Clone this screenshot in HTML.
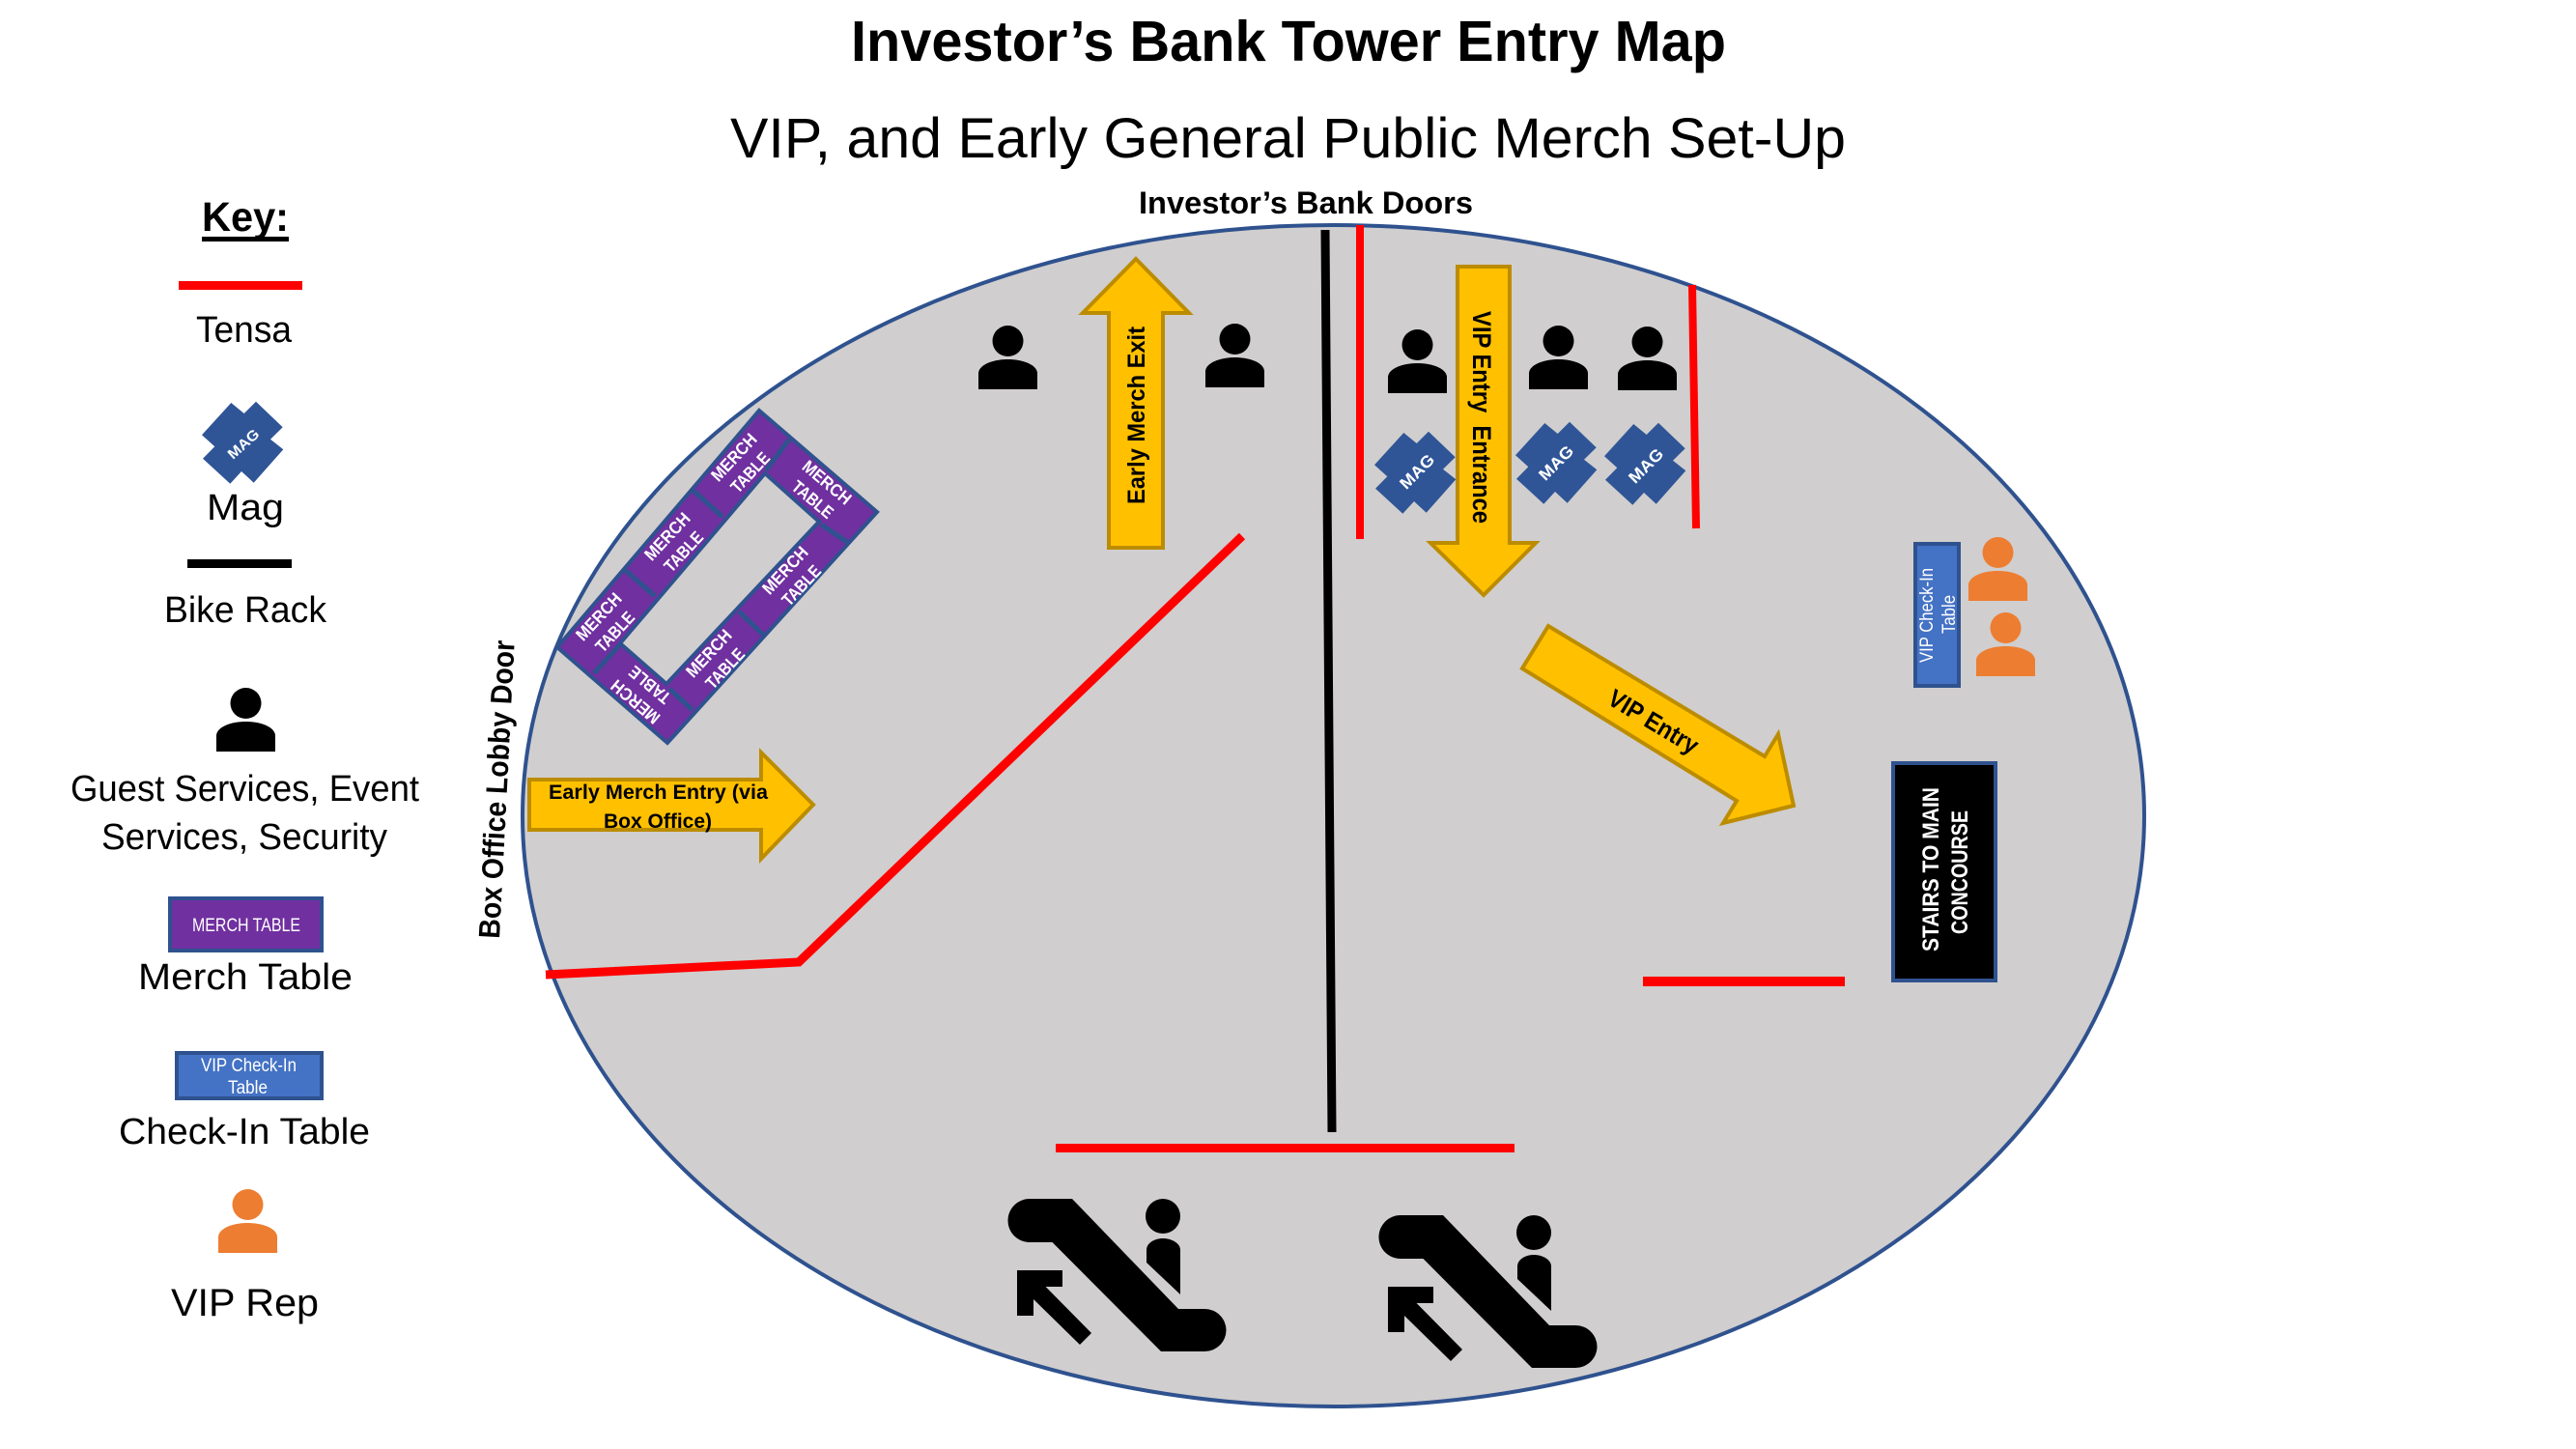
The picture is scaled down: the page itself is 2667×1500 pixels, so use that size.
<!DOCTYPE html>
<html>
<head>
<meta charset="utf-8">
<title>Investor's Bank Tower Entry Map</title>
<style>
html,body{margin:0;padding:0;background:#fff;width:2667px;height:1500px;overflow:hidden}
svg{display:block}
text{font-family:"Liberation Sans",sans-serif;fill:#000}
.b{font-weight:bold}
.w{fill:#fff}
</style>
</head>
<body>
<svg width="2667" height="1500" viewBox="0 0 2667 1500" xmlns="http://www.w3.org/2000/svg">
<defs>
  <g id="person"><circle cx="30.5" cy="-19" r="16"/><path d="M0 31V14C1 5 16 0 30.5 0S60 5 61 14V31Z"/></g>
  <polygon id="mag" fill="#2f5597" points="-11.7,-41 1.7,-30 14,-42.3 41.7,-15.7 29,-3.3 42.3,7.3 11.7,41.7 -1,30 -12.7,42.7 -41,16.7 -28.7,4.3 -42,-7.7"/>
  <g id="esc">
    <path d="M1066 1241H1110L1220 1355H1247A22.5 22 0 0 1 1247 1399H1202L1089.5 1286H1066A22.5 22.5 0 0 1 1066 1241Z"/>
    <ellipse cx="1204" cy="1259" rx="18" ry="18"/>
    <path d="M1187 1307V1294C1187 1287 1195 1282 1204 1282S1222 1287 1222 1294V1340Z"/>
    <polygon points="1053,1315 1100,1315 1100,1332 1082.6,1332 1130,1380 1118,1392 1070,1345 1070,1362 1053,1362"/>
  </g>
</defs>

<text class="b" x="881" y="63" font-size="59" textLength="906" lengthAdjust="spacingAndGlyphs">Investor’s Bank Tower Entry Map</text>
<text x="756" y="163" font-size="58" textLength="1155" lengthAdjust="spacingAndGlyphs">VIP, and Early General Public Merch Set-Up</text>

<!-- Legend -->
<text class="b" x="209" y="239" font-size="43" textLength="90" lengthAdjust="spacingAndGlyphs">Key:</text>
<rect x="209" y="245" width="90" height="5" fill="#000"/>
<rect x="185" y="291" width="128" height="9" fill="#f00"/>
<text x="203" y="354" font-size="38" textLength="99" lengthAdjust="spacingAndGlyphs">Tensa</text>
<use href="#mag" x="251" y="458"/>
<text class="b w" transform="translate(251.7,459.3) rotate(-42)" text-anchor="middle" y="5.5" font-size="15" textLength="38" lengthAdjust="spacingAndGlyphs">MAG</text>
<text x="214" y="538" font-size="38" textLength="80" lengthAdjust="spacingAndGlyphs">Mag</text>
<rect x="194" y="579" width="108" height="9" fill="#000"/>
<text x="170" y="644" font-size="38" textLength="168" lengthAdjust="spacingAndGlyphs">Bike Rack</text>
<use href="#person" x="224" y="747"/>
<text x="73" y="829" font-size="38" textLength="361" lengthAdjust="spacingAndGlyphs">Guest Services, Event</text>
<text x="105" y="879" font-size="38" textLength="296" lengthAdjust="spacingAndGlyphs">Services, Security</text>
<rect x="176" y="930" width="157" height="54" fill="#7030a0" stroke="#2f528f" stroke-width="4"/>
<text class="w" x="199" y="964" font-size="19" textLength="112" lengthAdjust="spacingAndGlyphs">MERCH TABLE</text>
<text x="143" y="1024" font-size="38" textLength="222" lengthAdjust="spacingAndGlyphs">Merch Table</text>
<rect x="183" y="1090" width="150" height="47" fill="#4472c4" stroke="#2f528f" stroke-width="4"/>
<text class="w" x="208" y="1109" font-size="19" textLength="99" lengthAdjust="spacingAndGlyphs">VIP Check-In</text>
<text class="w" x="236" y="1132" font-size="19" textLength="41" lengthAdjust="spacingAndGlyphs">Table</text>
<text x="123" y="1184" font-size="38" textLength="260" lengthAdjust="spacingAndGlyphs">Check-In Table</text>
<use href="#person" x="226" y="1266" fill="#ed7d31"/>
<text x="177" y="1362" font-size="40" textLength="153" lengthAdjust="spacingAndGlyphs">VIP Rep</text>

<!-- Floor -->
<ellipse cx="1380.5" cy="844.5" rx="839.5" ry="611.5" fill="#d0cece" stroke="#2f528f" stroke-width="4"/>

<text class="b" x="1179" y="221" font-size="32" textLength="346" lengthAdjust="spacingAndGlyphs">Investor’s Bank Doors</text>
<text class="b" transform="translate(517,972) rotate(-87.1)" font-size="31" textLength="309" lengthAdjust="spacingAndGlyphs">Box Office Lobby Door</text>

<!-- Merch tables -->
<polygon points="786,425 908,530 691,769 577,670" fill="#7030a0" stroke="#2f528f" stroke-width="4"/>
<polygon points="792,490 848,540 690,708 642,666" fill="#d0cece" stroke="#2f528f" stroke-width="4"/>
<g stroke="#2f528f" stroke-width="5">
  <line x1="817" y1="455" x2="793" y2="487"/>
  <line x1="718" y1="508" x2="748" y2="535"/>
  <line x1="647" y1="590" x2="678" y2="617"/>
  <line x1="615" y1="697" x2="642" y2="667"/>
  <line x1="693" y1="713" x2="717" y2="735"/>
  <line x1="765" y1="633" x2="790" y2="657"/>
  <line x1="850" y1="543" x2="880" y2="563"/>
</g>
<g class="b" font-size="18" text-anchor="middle" font-weight="bold">
  <g transform="translate(628,646) rotate(-47)"><text class="w" y="-5" text-anchor="middle" textLength="60" lengthAdjust="spacingAndGlyphs">MERCH</text><text class="w" y="18" text-anchor="middle" textLength="50" lengthAdjust="spacingAndGlyphs">TABLE</text></g>
  <g transform="translate(699,563) rotate(-47)"><text class="w" y="-5" text-anchor="middle" textLength="60" lengthAdjust="spacingAndGlyphs">MERCH</text><text class="w" y="18" text-anchor="middle" textLength="50" lengthAdjust="spacingAndGlyphs">TABLE</text></g>
  <g transform="translate(768,481) rotate(-47)"><text class="w" y="-5" text-anchor="middle" textLength="60" lengthAdjust="spacingAndGlyphs">MERCH</text><text class="w" y="18" text-anchor="middle" textLength="50" lengthAdjust="spacingAndGlyphs">TABLE</text></g>
  <g transform="translate(849,508) rotate(40)"><text class="w" y="-5" text-anchor="middle" textLength="60" lengthAdjust="spacingAndGlyphs">MERCH</text><text class="w" y="18" text-anchor="middle" textLength="50" lengthAdjust="spacingAndGlyphs">TABLE</text></g>
  <g transform="translate(821,598) rotate(-47)"><text class="w" y="-5" text-anchor="middle" textLength="60" lengthAdjust="spacingAndGlyphs">MERCH</text><text class="w" y="18" text-anchor="middle" textLength="50" lengthAdjust="spacingAndGlyphs">TABLE</text></g>
  <g transform="translate(742,684) rotate(-47)"><text class="w" y="-5" text-anchor="middle" textLength="60" lengthAdjust="spacingAndGlyphs">MERCH</text><text class="w" y="18" text-anchor="middle" textLength="50" lengthAdjust="spacingAndGlyphs">TABLE</text></g>
  <g transform="translate(665,718) rotate(220)"><text class="w" y="-5" text-anchor="middle" textLength="60" lengthAdjust="spacingAndGlyphs">MERCH</text><text class="w" y="18" text-anchor="middle" textLength="50" lengthAdjust="spacingAndGlyphs">TABLE</text></g>
</g>

<!-- Lines -->
<polyline points="565,1009 827,996 1286,555" fill="none" stroke="#f00" stroke-width="9"/>
<line x1="1408" y1="233" x2="1408" y2="558" stroke="#f00" stroke-width="8"/>
<line x1="1752" y1="295" x2="1756" y2="547" stroke="#f00" stroke-width="8"/>
<rect x="1701" y="1011" width="209" height="10" fill="#f00"/>
<rect x="1093" y="1184" width="475" height="9" fill="#f00"/>
<line x1="1372" y1="238" x2="1379" y2="1172" stroke="#000" stroke-width="9"/>

<!-- Arrows -->
<g fill="#ffc000" stroke="#bc8c00" stroke-width="4">
  <polygon points="1176,268 1231,324 1204,324 1204,567 1148,567 1148,324 1121,324"/>
  <polygon points="1509,276 1563,276 1563,562 1590,562 1536,616 1481,562 1509,562"/>
  <polygon points="548,807 788,807 788,779 842,833 788,889 788,859 548,859"/>
  <polygon points="1603,648 1827,783 1841,760 1857,834 1784,852 1798,829 1576,692"/>
</g>
<text class="b" transform="translate(1185,522) rotate(-90)" font-size="25" textLength="184" lengthAdjust="spacingAndGlyphs">Early Merch Exit</text>
<text class="b" transform="translate(1525,322) rotate(90)" font-size="27" textLength="220" lengthAdjust="spacingAndGlyphs" xml:space="preserve">VIP Entry  Entrance</text>
<text class="b" x="568" y="827" font-size="21" textLength="227" lengthAdjust="spacingAndGlyphs">Early Merch Entry (via</text>
<text class="b" x="625" y="857" font-size="21" textLength="112" lengthAdjust="spacingAndGlyphs">Box Office)</text>
<text class="b" transform="translate(1712,747) rotate(31)" text-anchor="middle" y="9" font-size="26" textLength="104" lengthAdjust="spacingAndGlyphs">VIP Entry</text>

<!-- Persons -->
<use href="#person" x="1013" y="372"/>
<use href="#person" x="1248" y="370"/>
<use href="#person" x="1437" y="376"/>
<use href="#person" x="1583" y="372"/>
<use href="#person" x="1675" y="373"/>
<use href="#person" x="2038" y="591" fill="#ed7d31"/>
<use href="#person" x="2046" y="669" fill="#ed7d31"/>

<!-- Mags -->
<use href="#mag" x="1465" y="489"/>
<use href="#mag" x="1611" y="479"/>
<use href="#mag" x="1703" y="480"/>
<text class="b w" transform="translate(1467,488) rotate(-45)" text-anchor="middle" y="6" font-size="17" textLength="43" lengthAdjust="spacingAndGlyphs">MAG</text>
<text class="b w" transform="translate(1611,479) rotate(-45)" text-anchor="middle" y="6" font-size="17" textLength="43" lengthAdjust="spacingAndGlyphs">MAG</text>
<text class="b w" transform="translate(1704,482) rotate(-45)" text-anchor="middle" y="6" font-size="17" textLength="43" lengthAdjust="spacingAndGlyphs">MAG</text>

<!-- Check-in -->
<rect x="1983" y="563" width="45" height="147" fill="#4472c4" stroke="#2f528f" stroke-width="4"/>
<text class="w" transform="translate(2001,686) rotate(-90)" font-size="19" textLength="98" lengthAdjust="spacingAndGlyphs">VIP Check-In</text>
<text class="w" transform="translate(2024,656) rotate(-90)" font-size="19" textLength="40" lengthAdjust="spacingAndGlyphs">Table</text>

<!-- Stairs -->
<rect x="1960" y="790" width="106" height="225" fill="#000" stroke="#2f528f" stroke-width="4"/>
<text class="b w" transform="translate(2007,985) rotate(-90)" font-size="24" textLength="170" lengthAdjust="spacingAndGlyphs">STAIRS TO MAIN</text>
<text class="b w" transform="translate(2037,967) rotate(-90)" font-size="24" textLength="128" lengthAdjust="spacingAndGlyphs">CONCOURSE</text>

<!-- Escalators -->
<use href="#esc"/>
<use href="#esc" x="384" y="17"/>
</svg>
</body>
</html>
